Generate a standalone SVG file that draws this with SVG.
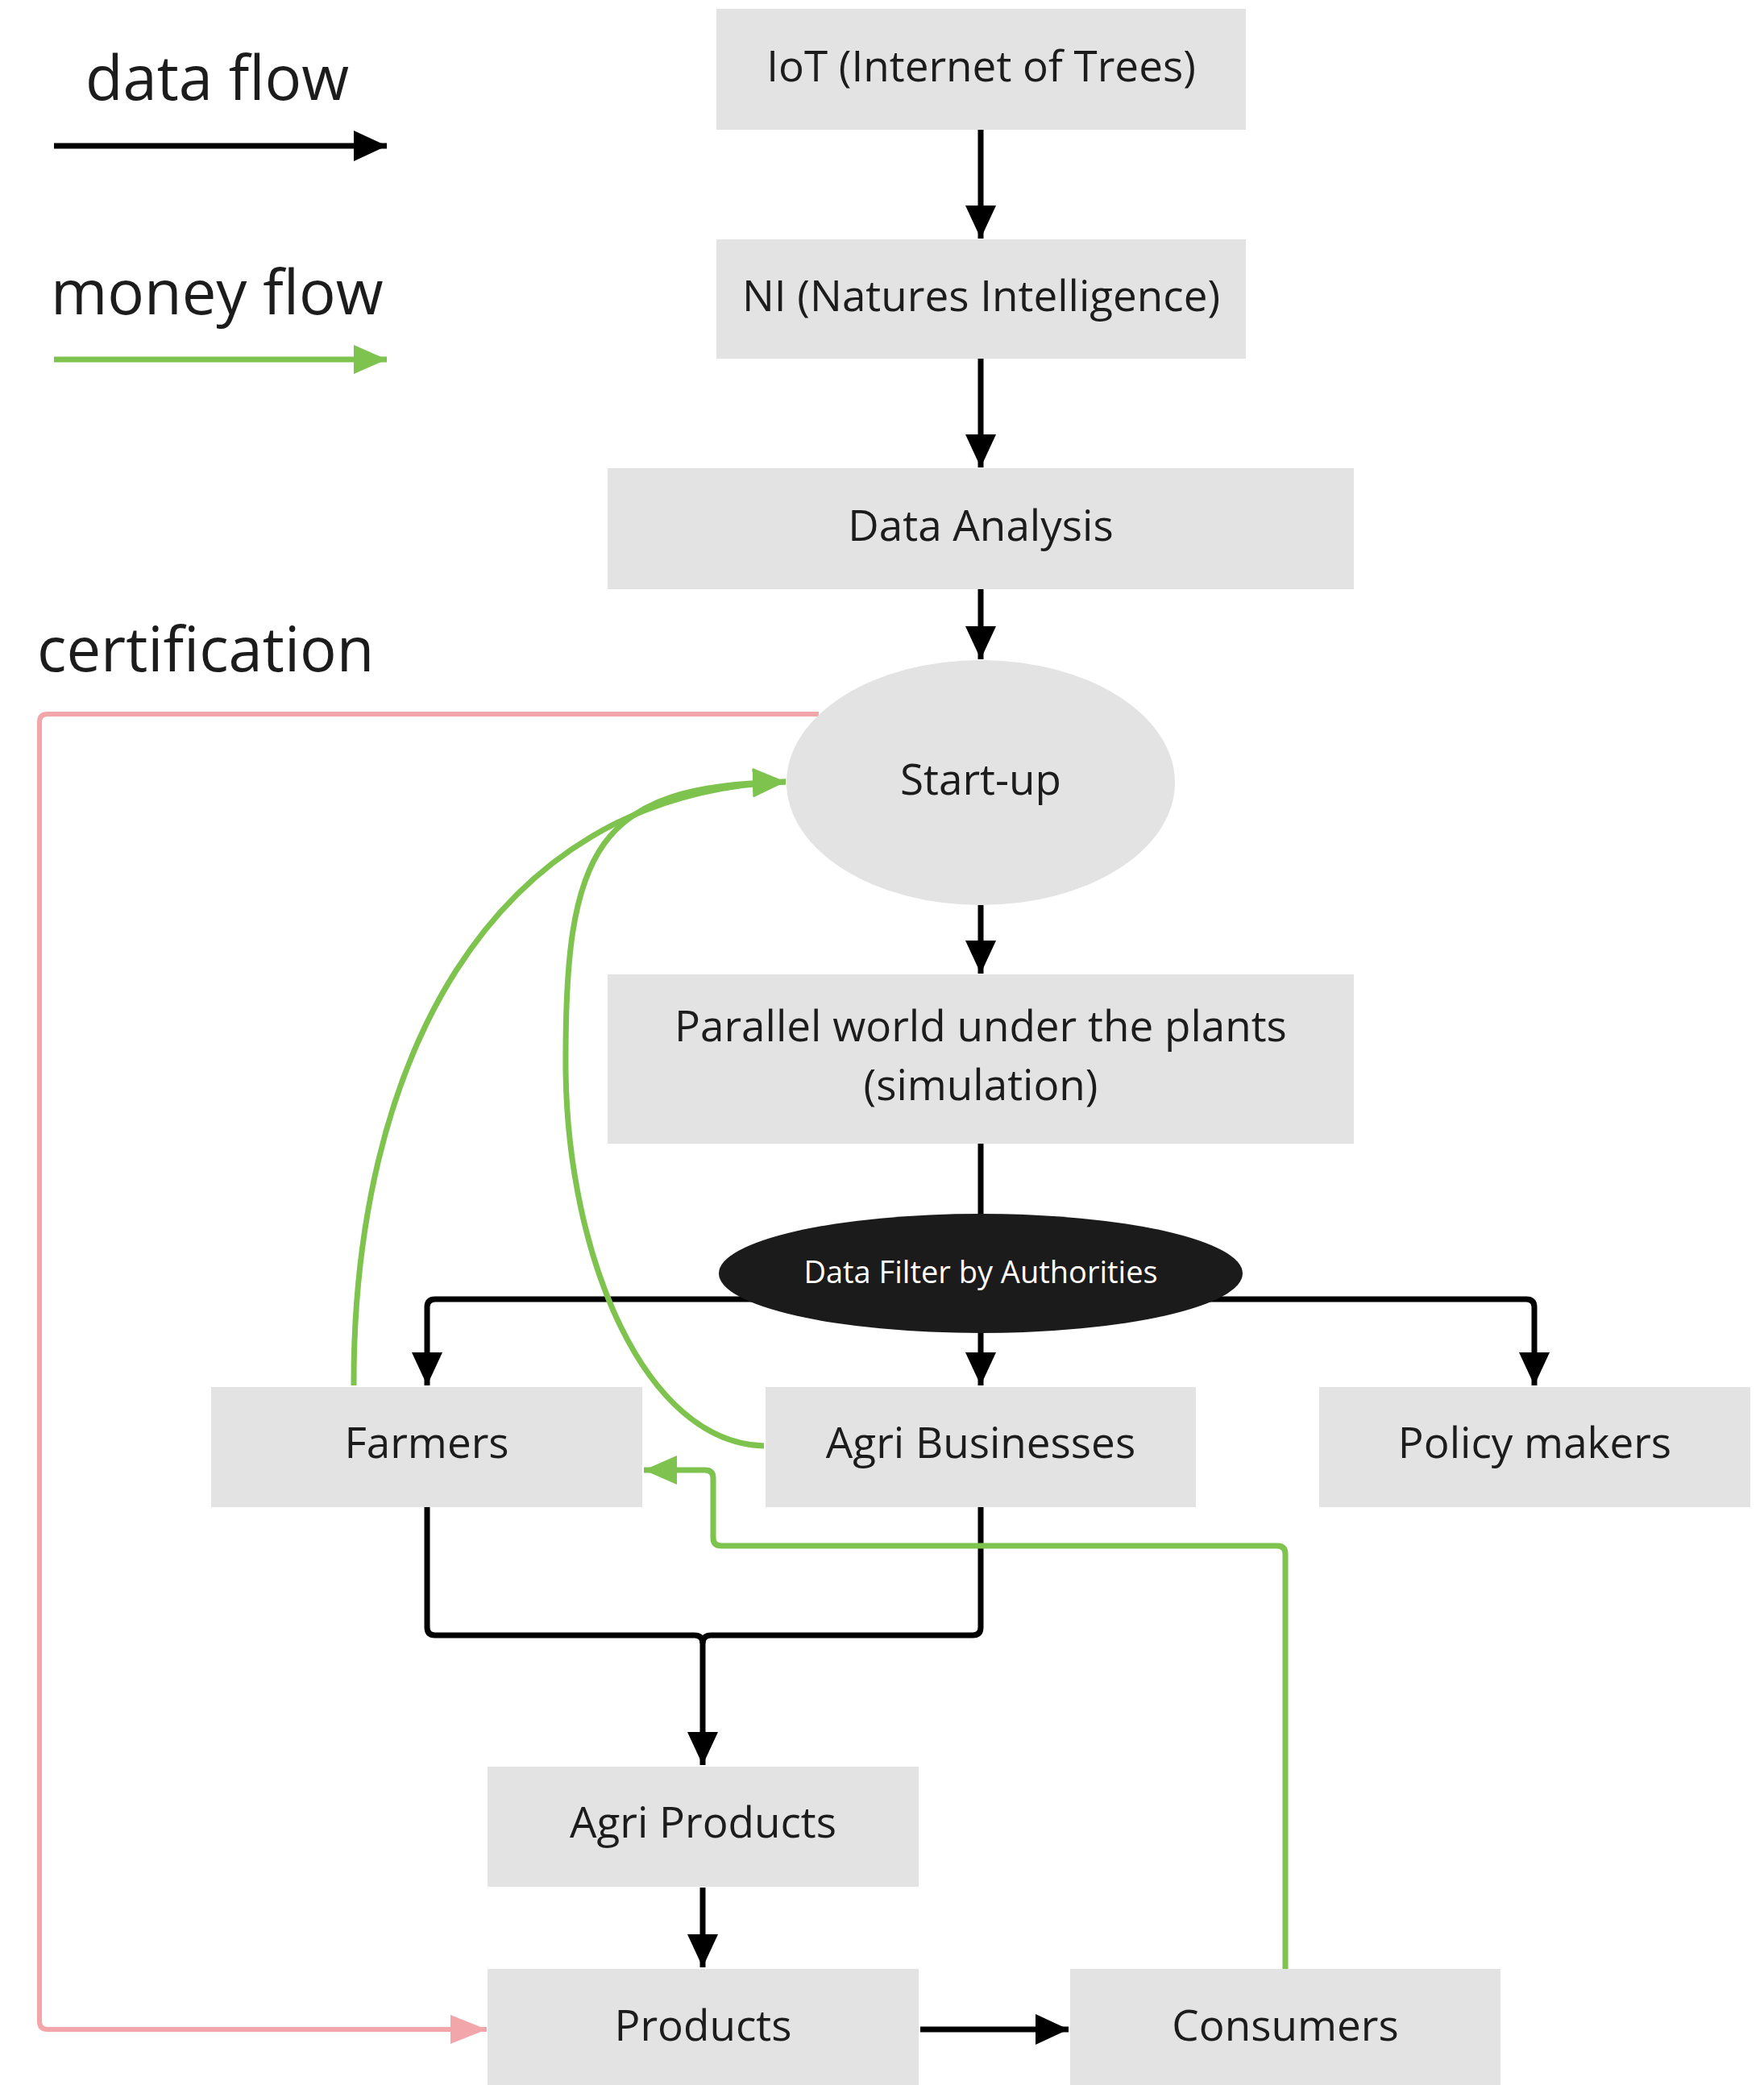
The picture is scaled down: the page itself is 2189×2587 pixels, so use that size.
<svg xmlns="http://www.w3.org/2000/svg" width="2189" height="2587" viewBox="0 0 2189 2587">
<style>
.box{fill:#e3e3e3}
.t{font-family:"Open Sans","Noto Sans","DejaVu Sans",sans-serif;font-size:53px;fill:#1c1c1c;text-anchor:middle}
.lg{font-family:"Open Sans","Noto Sans","DejaVu Sans",sans-serif;font-size:76px;fill:#1c1c1c}
.ft{font-family:"Open Sans","Noto Sans","DejaVu Sans",sans-serif;font-size:38px;fill:#ffffff;text-anchor:middle}
.bk{fill:none;stroke:#000;stroke-width:7}
.gr{fill:none;stroke:#7dc34d;stroke-width:7}
.pk{fill:none;stroke:#f2a6aa;stroke-width:6}
</style>
<defs>
<marker id="ab" markerUnits="userSpaceOnUse" markerWidth="42" markerHeight="38" refX="41" refY="19" orient="auto"><path d="M0,0 L41,19 L0,38 z" fill="#000"/></marker>
<marker id="ag" markerUnits="userSpaceOnUse" markerWidth="42" markerHeight="36" refX="41" refY="18" orient="auto"><path d="M0,0 L41,18 L0,36 z" fill="#7dc34d"/></marker>
<marker id="ap" markerUnits="userSpaceOnUse" markerWidth="46" markerHeight="36" refX="45" refY="18" orient="auto"><path d="M0,0 L45,18 L0,36 z" fill="#f2a6aa"/></marker>
</defs>
<rect width="2189" height="2587" fill="#ffffff"/>

<g id="legend">
<text class="lg" x="106" y="124">data flow</text>
<line class="bk" x1="67" y1="181" x2="480" y2="181" marker-end="url(#ab)"/>
<text class="lg" x="63" y="390">money flow</text>
<line class="gr" x1="67" y1="446" x2="480" y2="446" marker-end="url(#ag)"/>
<text class="lg" x="46" y="833">certification</text>
</g>

<g id="connectors">
<line class="bk" x1="1217" y1="161" x2="1217" y2="296" marker-end="url(#ab)"/>
<line class="bk" x1="1217" y1="445" x2="1217" y2="580" marker-end="url(#ab)"/>
<line class="bk" x1="1217" y1="731" x2="1217" y2="818" marker-end="url(#ab)"/>
<line class="bk" x1="1217" y1="1123" x2="1217" y2="1208" marker-end="url(#ab)"/>
<line class="bk" x1="1217" y1="1419" x2="1217" y2="1510"/>
<path class="bk" d="M1217 1612 H540 Q530 1612 530 1622 V1719" marker-end="url(#ab)"/>
<path class="bk" d="M1217 1612 H1894 Q1904 1612 1904 1622 V1719" marker-end="url(#ab)"/>
<line class="bk" x1="1217" y1="1650" x2="1217" y2="1719" marker-end="url(#ab)"/>
<path class="bk" d="M530 1870 V2019 Q530 2029 540 2029 H862 Q872 2029 872 2039 V2190" marker-end="url(#ab)"/>
<path class="bk" d="M1217 1870 V2019 Q1217 2029 1207 2029 H882 Q872 2029 872 2039"/>
<line class="bk" x1="872" y1="2342" x2="872" y2="2441" marker-end="url(#ab)"/>
<line class="bk" x1="1142" y1="2518" x2="1326" y2="2518" marker-end="url(#ab)"/>
<path class="pk" d="M1016 886 H59 Q49 886 49 896 V2508 Q49 2518 59 2518 H604" marker-end="url(#ap)"/>
<path class="gr" d="M439 1719 C438 1330 600 985 975 970" marker-end="url(#ag)"/>
<path class="gr" d="M948 1794 C800 1790 705 1560 702 1330 C700 1050 740 975 975 970" marker-end="url(#ag)"/>
<path class="gr" d="M1595 2443 V1928 Q1595 1918 1585 1918 H895 Q885 1918 885 1908 V1834 Q885 1824 875 1824 H799" marker-end="url(#ag)"/>
</g>

<g id="iot"><rect class="box" x="889" y="11" width="657" height="150"/><text class="t" x="1217.5" y="101">IoT (Internet of Trees)</text></g>
<g id="ni"><rect class="box" x="889" y="297" width="657" height="148"/><text class="t" x="1217.5" y="386">NI (Natures Intelligence)</text></g>
<g id="data-analysis"><rect class="box" x="754" y="581" width="926" height="150"/><text class="t" x="1217" y="671">Data Analysis</text></g>
<g id="startup"><ellipse cx="1217" cy="971" rx="241" ry="152" fill="#e3e3e3"/><text class="t" x="1217" y="986">Start-up</text></g>
<g id="parallel"><rect class="box" x="754" y="1209" width="926" height="210"/><text class="t" x="1217" y="1292">Parallel world under the plants</text><text class="t" x="1217" y="1365">(simulation)</text></g>
<g id="data-filter"><ellipse cx="1217" cy="1580" rx="325" ry="74" fill="#1b1b1b"/><text class="ft" x="1217" y="1592">Data Filter by Authorities</text></g>
<g id="farmers"><rect class="box" x="262" y="1721" width="535" height="149"/><text class="t" x="529.5" y="1809">Farmers</text></g>
<g id="agri-businesses"><rect class="box" x="950" y="1721" width="534" height="149"/><text class="t" x="1217" y="1809">Agri Businesses</text></g>
<g id="policy-makers"><rect class="box" x="1637" y="1721" width="535" height="149"/><text class="t" x="1904.5" y="1809">Policy makers</text></g>
<g id="agri-products"><rect class="box" x="605" y="2192" width="535" height="149"/><text class="t" x="872.5" y="2280">Agri Products</text></g>
<g id="products"><rect class="box" x="605" y="2443" width="535" height="150"/><text class="t" x="872.5" y="2532">Products</text></g>
<g id="consumers"><rect class="box" x="1328" y="2443" width="534" height="150"/><text class="t" x="1595" y="2532">Consumers</text></g>
</svg>
